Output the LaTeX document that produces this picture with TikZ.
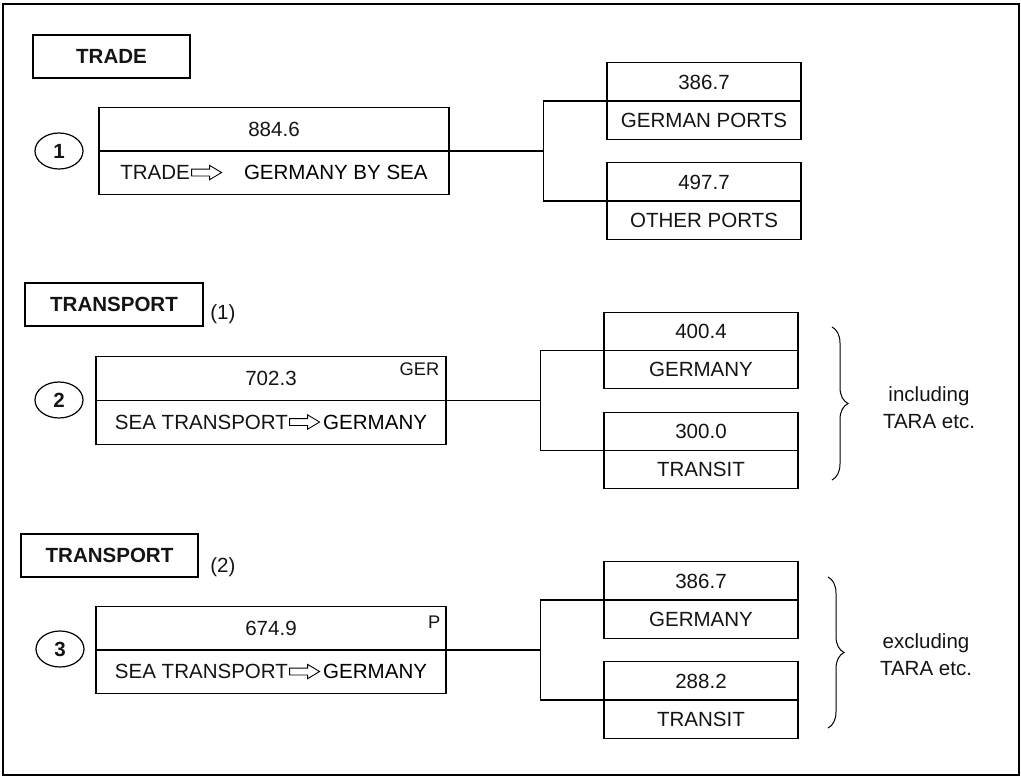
\documentclass[tikz,border=0pt]{standalone}
\usepackage{fontspec}
\setmainfont{Liberation Sans}
\usetikzlibrary{shapes.multipart,shapes.geometric,decorations.pathreplacing}
\newlength{\mainboxwidth}
\newlength{\subboxwidth}
\newlength{\titleboxheight}
\newlength{\leveldistance}
\newlength{\siblingdistance}
\newlength{\branchlength}
\setlength{\mainboxwidth}{87.5mm}
\setlength{\subboxwidth}{48.5mm}
\setlength{\titleboxheight}{10.75mm}
\setlength{\leveldistance}{107.5mm}
\setlength{\siblingdistance}{25mm}
\setlength{\branchlength}{23.5mm}
\definecolor{linecolor}{RGB}{0,0,0}
\definecolor{textcolor}{RGB}{20,20,20}
\newcommand{\bodyfont}{\fontsize{14.6}{19.2}\selectfont}
\newcommand{\tagfont}{\fontsize{13}{15}\selectfont}
\newcommand{\mainstrut}{\rule[-3.55mm]{0pt}{10.625mm}}
\newcommand{\substrut}{\rule[-2.8mm]{0pt}{9.25mm}}
\newcommand{\flowarrow}{%
	\begin{tikzpicture}[x=1mm, y=1mm, baseline={(0,-1.84mm)}]
		\draw[linecolor, line width=0.22mm, line join=miter] (0,-0.85) -- (4.5,-0.85) -- (4.5,-1.8) -- (7.5,0) -- (4.5,1.8) -- (4.5,0.85) -- (0,0.85) -- cycle;
	\end{tikzpicture}%
}
\tikzstyle{every node} = [inner sep=0, text=textcolor]
\tikzstyle{edge from parent} = [draw, linecolor, line width=0.3mm]
\tikzstyle{mainbox} = [rectangle split, rectangle split parts=2, draw=linecolor, line width=0.3mm, minimum width=\mainboxwidth]
\tikzstyle{subbox} = [rectangle split, rectangle split parts=2, draw=linecolor, line width=0.3mm, minimum width=\subboxwidth]
\tikzstyle{titlebox} = [draw=linecolor, line width=0.3mm, minimum height=\titleboxheight, font=\bodyfont\bfseries]
\tikzstyle{numcircle} = [ellipse, draw=linecolor, line width=0.3mm, minimum width=12mm, minimum height=9mm, font=\bodyfont\bfseries]
\tikzstyle{tagtext} = [anchor=north east, font=\tagfont]
\tikzstyle{remark} = [align=center]
\tikzstyle{rightbrace} = [draw=linecolor, line width=0.25mm, decorate, decoration={brace, amplitude=4mm}]

\begin{document}
\begin{tikzpicture}[
		x=0.25mm, y=-0.25mm,
		font=\bodyfont,
		grow'=right,
		level distance=\leveldistance,
		sibling distance=\siblingdistance,
		edge from parent path={(\tikzparentnode.east) -- ++(\branchlength,0) |- (\tikzchildnode.west)}
		]
		
		\useasboundingbox (0,0) rectangle (1021,777);
		\draw[linecolor, line width=0.5mm] (3,4) rectangle (1019,775);
		
		% trade
		\node[titlebox, minimum width=39.25mm] (trade) at (111.5,56.5) {TRADE};
		\node[numcircle] (num1) at (59,151) {1};
		\node[mainbox] (total1) at (274,151) {\mainstrut 884.6\nodepart{two}\mainstrut TRADE\hspace{0.3mm}\flowarrow\hspace{5.5mm}GERMANY BY SEA}
		child{
			node[subbox] (germanports) {\substrut 386.7\nodepart{two}\substrut GERMAN PORTS}
		}
		child{
			node[subbox] (otherports) {\substrut 497.7\nodepart{two}\substrut OTHER PORTS}
		};
		
		% transport, including tara
		\node[titlebox, minimum width=44.5mm] (transportone) at (114,304.5) {TRANSPORT};
		\node[anchor=west] (noteone) at (210,314) {(1)};
		\node[numcircle] (num2) at (59,400) {2};
		\node[mainbox] (total2) at (271,400.5) {\mainstrut 702.3\nodepart{two}\mainstrut SEA TRANSPORT\hspace{0.3mm}\flowarrow\hspace{0.8mm}GERMANY}
		child{
			node[subbox] (germanytwo) {\substrut 400.4\nodepart{two}\substrut GERMANY}
		}
		child{
			node[subbox] (transittwo) {\substrut 300.0\nodepart{two}\substrut TRANSIT}
		};
		\node[tagtext] (gertag) at ([xshift=-1.75mm,yshift=-1.5mm]total2.north east) {GER};
		\draw[rightbrace] (832,327) -- (832,480);
		\node[remark] (including) at (929,408) {including\\TARA etc.};
		
		% transport, excluding tara
		\node[titlebox, minimum width=44.25mm] (transporttwo) at (109.5,555.5) {TRANSPORT};
		\node[anchor=west] (notetwo) at (210,567) {(2)};
		\node[numcircle] (num3) at (60,649) {3};
		\node[mainbox] (total3) at (271,650) {\mainstrut 674.9\nodepart{two}\mainstrut SEA TRANSPORT\hspace{0.3mm}\flowarrow\hspace{0.8mm}GERMANY}
		child{
			node[subbox] (germanythree) {\substrut 386.7\nodepart{two}\substrut GERMANY}
		}
		child{
			node[subbox] (transitthree) {\substrut 288.2\nodepart{two}\substrut TRANSIT}
		};
		\node[tagtext] (ptag) at ([xshift=-1.5mm,yshift=-2.5mm]total3.north east) {P};
		\draw[rightbrace] (828,577) -- (828,728);
		\node[remark] (excluding) at (926,655) {excluding\\TARA etc.};
		
	\end{tikzpicture}
\end{document}
